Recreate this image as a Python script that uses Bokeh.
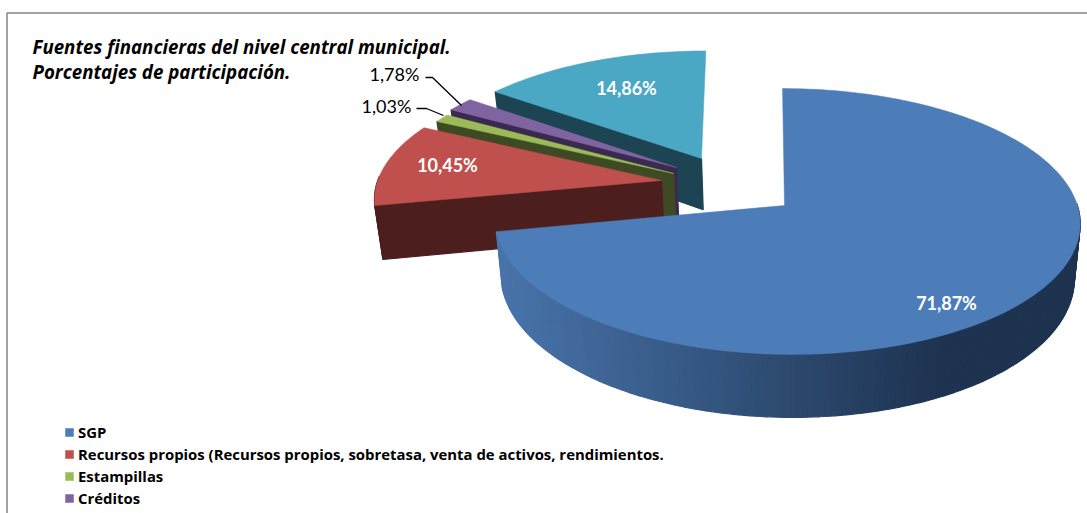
import math
from bokeh.plotting import figure
from bokeh.models import Range1d, Legend, LegendItem
from bokeh.core.properties import value
from bokeh.embed import file_html
from bokeh.resources import INLINE

# ---- data ----
categories = ["SGP", "Recursos propios (Recursos propios, sobretasa, venta de activos, rendimientos.",
              "Estampillas", "Créditos", "Otros"]
percentages = [71.87, 10.45, 1.03, 1.78, 14.86]
legend_count = 4
title_lines = ["Fuentes financieras del nivel central municipal.", "Porcentajes de participación."]

# ---- styles ----
top_colors = ["#4d7db9", "#c0504d", "#9bbb59", "#8064a2", "#4aa8c4"]
wall_colors = ["#1e3350", "#4c1f1e", "#3e4a24", "#3b2a50", "#1c4452"]
FONT = value("Open Sans")

# ---- layout: perspective projection of the pie plane (picture pixels) ----
W, H = 1087, 513
X0, Y0, A, B, K, SHEAR = 786.5, 205, 290.4, 131, 0.1203, 5
DEPTH, DEPTH_SLOPE, SHRINK = 54, 0.06, 0.98
START = 0.0
rim_center_px = [(786.5, 205), (661, 180), (673, 173), (676, 167), (701, 158)]
blue_apex_px = (784, 205)


def project(u, v):
    s = 1 / (1 + K * v)
    return X0 + (A * u - SHEAR * v) * s, Y0 - B * v * s


def unproject(x, y):
    t = (Y0 - y) / B
    v = t / (1 - K * t)
    return ((x - X0) * (1 + K * v) + SHEAR * v) / A, v


def lower(pt):
    return X0 + SHRINK * (pt[0] - X0), pt[1] + DEPTH + DEPTH_SLOPE * (pt[1] - Y0)


p = figure(width=W, height=H, output_backend="svg", toolbar_location=None,
           x_range=Range1d(0, W), y_range=Range1d(H, 0), min_border=0)
p.axis.visible = False
p.grid.visible = False
p.outline_line_color = None
p.background_fill_color = "white"

# frame
p.line([6.5, 6.5, W], [H, 12.5, 12.5], line_color="#858585", line_width=1.5)

# slices
bounds = []
a = START
for pct in percentages:
    bounds.append((a, a + pct * 3.6))
    a += pct * 3.6


def mix(c1, c2, t):
    r = [int(c1[i:i + 2], 16) for i in (1, 3, 5)]
    q = [int(c2[i:i + 2], 16) for i in (1, 3, 5)]
    return "#%02x%02x%02x" % tuple(round(x + (y - x) * t) for x, y in zip(r, q))


def quad(q1, q2):
    l1, l2 = lower(q1), lower(q2)
    return [q1[0], q2[0], l2[0], l1[0]], [q1[1], q2[1], l2[1], l1[1]]


top_renderers = {}
for i in [4, 3, 2, 1, 0]:
    a0, a1 = bounds[i]
    u0, v0 = unproject(*rim_center_px[i])
    n = max(4, int((a1 - a0) / 1.0))
    angs = [a0 + (a1 - a0) * j / n for j in range(n + 1)]
    rim = [project(u0 + math.sin(math.radians(g)), v0 + math.cos(math.radians(g))) for g in angs]
    apex = blue_apex_px if i == 0 else project(u0, v0)
    outline = [apex] + rim
    xs, ys, cols = [], [], []
    if i != 0:
        qx, qy = quad(apex, rim[0])
        xs.append(qx); ys.append(qy); cols.append(wall_colors[i])
    for g, q1, q2 in zip(angs[:-1], rim[:-1], rim[1:]):
        if math.cos(math.radians(g)) < 0.02:
            qx, qy = quad(q1, q2)
            xs.append(qx); ys.append(qy)
            if i == 0:
                t = min(1, max(0, ((q1[0] + q2[0]) / 2 - 500) / 440))
                cols.append(mix("#4874aa", wall_colors[0], t))
            else:
                cols.append(wall_colors[i])
    p.patches(xs, ys, fill_color=cols, line_color=cols, line_width=1.2)
    top_renderers[i] = p.patch([q[0] for q in outline], [q[1] for q in outline],
                               fill_color=top_colors[i], line_color=top_colors[i], line_width=0.5)

# leader lines
p.line([425, 432, 461], [77, 77, 105], line_color="black", line_width=1.3)
p.line([416, 426, 443], [108, 108, 115], line_color="black", line_width=1.3)

# data labels
labels = [f"{v:.2f}".replace(".", ",") + "%" for v in percentages]
label_pos = [(946, 302), (447, 164), (386, 105), (394, 73), (626, 87)]
label_col = ["white", "white", "black", "black", "white"]
label_style = ["bold", "bold", "normal", "normal", "bold"]
for t, (x, y), c, st in zip(labels, label_pos, label_col, label_style):
    p.text([x], [y], text=[t], text_color=c, text_font=value("Lato"), text_font_size="18px",
           text_font_style=st, text_align="center", text_baseline="middle")

# title
for t, y in zip(title_lines, [46, 71]):
    p.text([32], [y], text=[t], text_color="black", text_font=FONT, text_font_size="18.7px",
           text_font_style="bold italic", text_align="left", text_baseline="middle")

# legend
legend = Legend(items=[LegendItem(label=categories[i], renderers=[top_renderers[i]]) for i in range(legend_count)],
                location=(64, 5), background_fill_alpha=0, border_line_color=None,
                glyph_width=10, glyph_height=10, spacing=2, padding=6, margin=0,
                label_text_font="Open Sans", label_text_font_size="14.9px", label_text_color="black",
                label_standoff=4, label_height=18, label_text_line_height=1.0)
legend.label_text_font_style = "bold"
p.add_layout(legend)

open("out.html", "w").write(file_html(p, INLINE))
